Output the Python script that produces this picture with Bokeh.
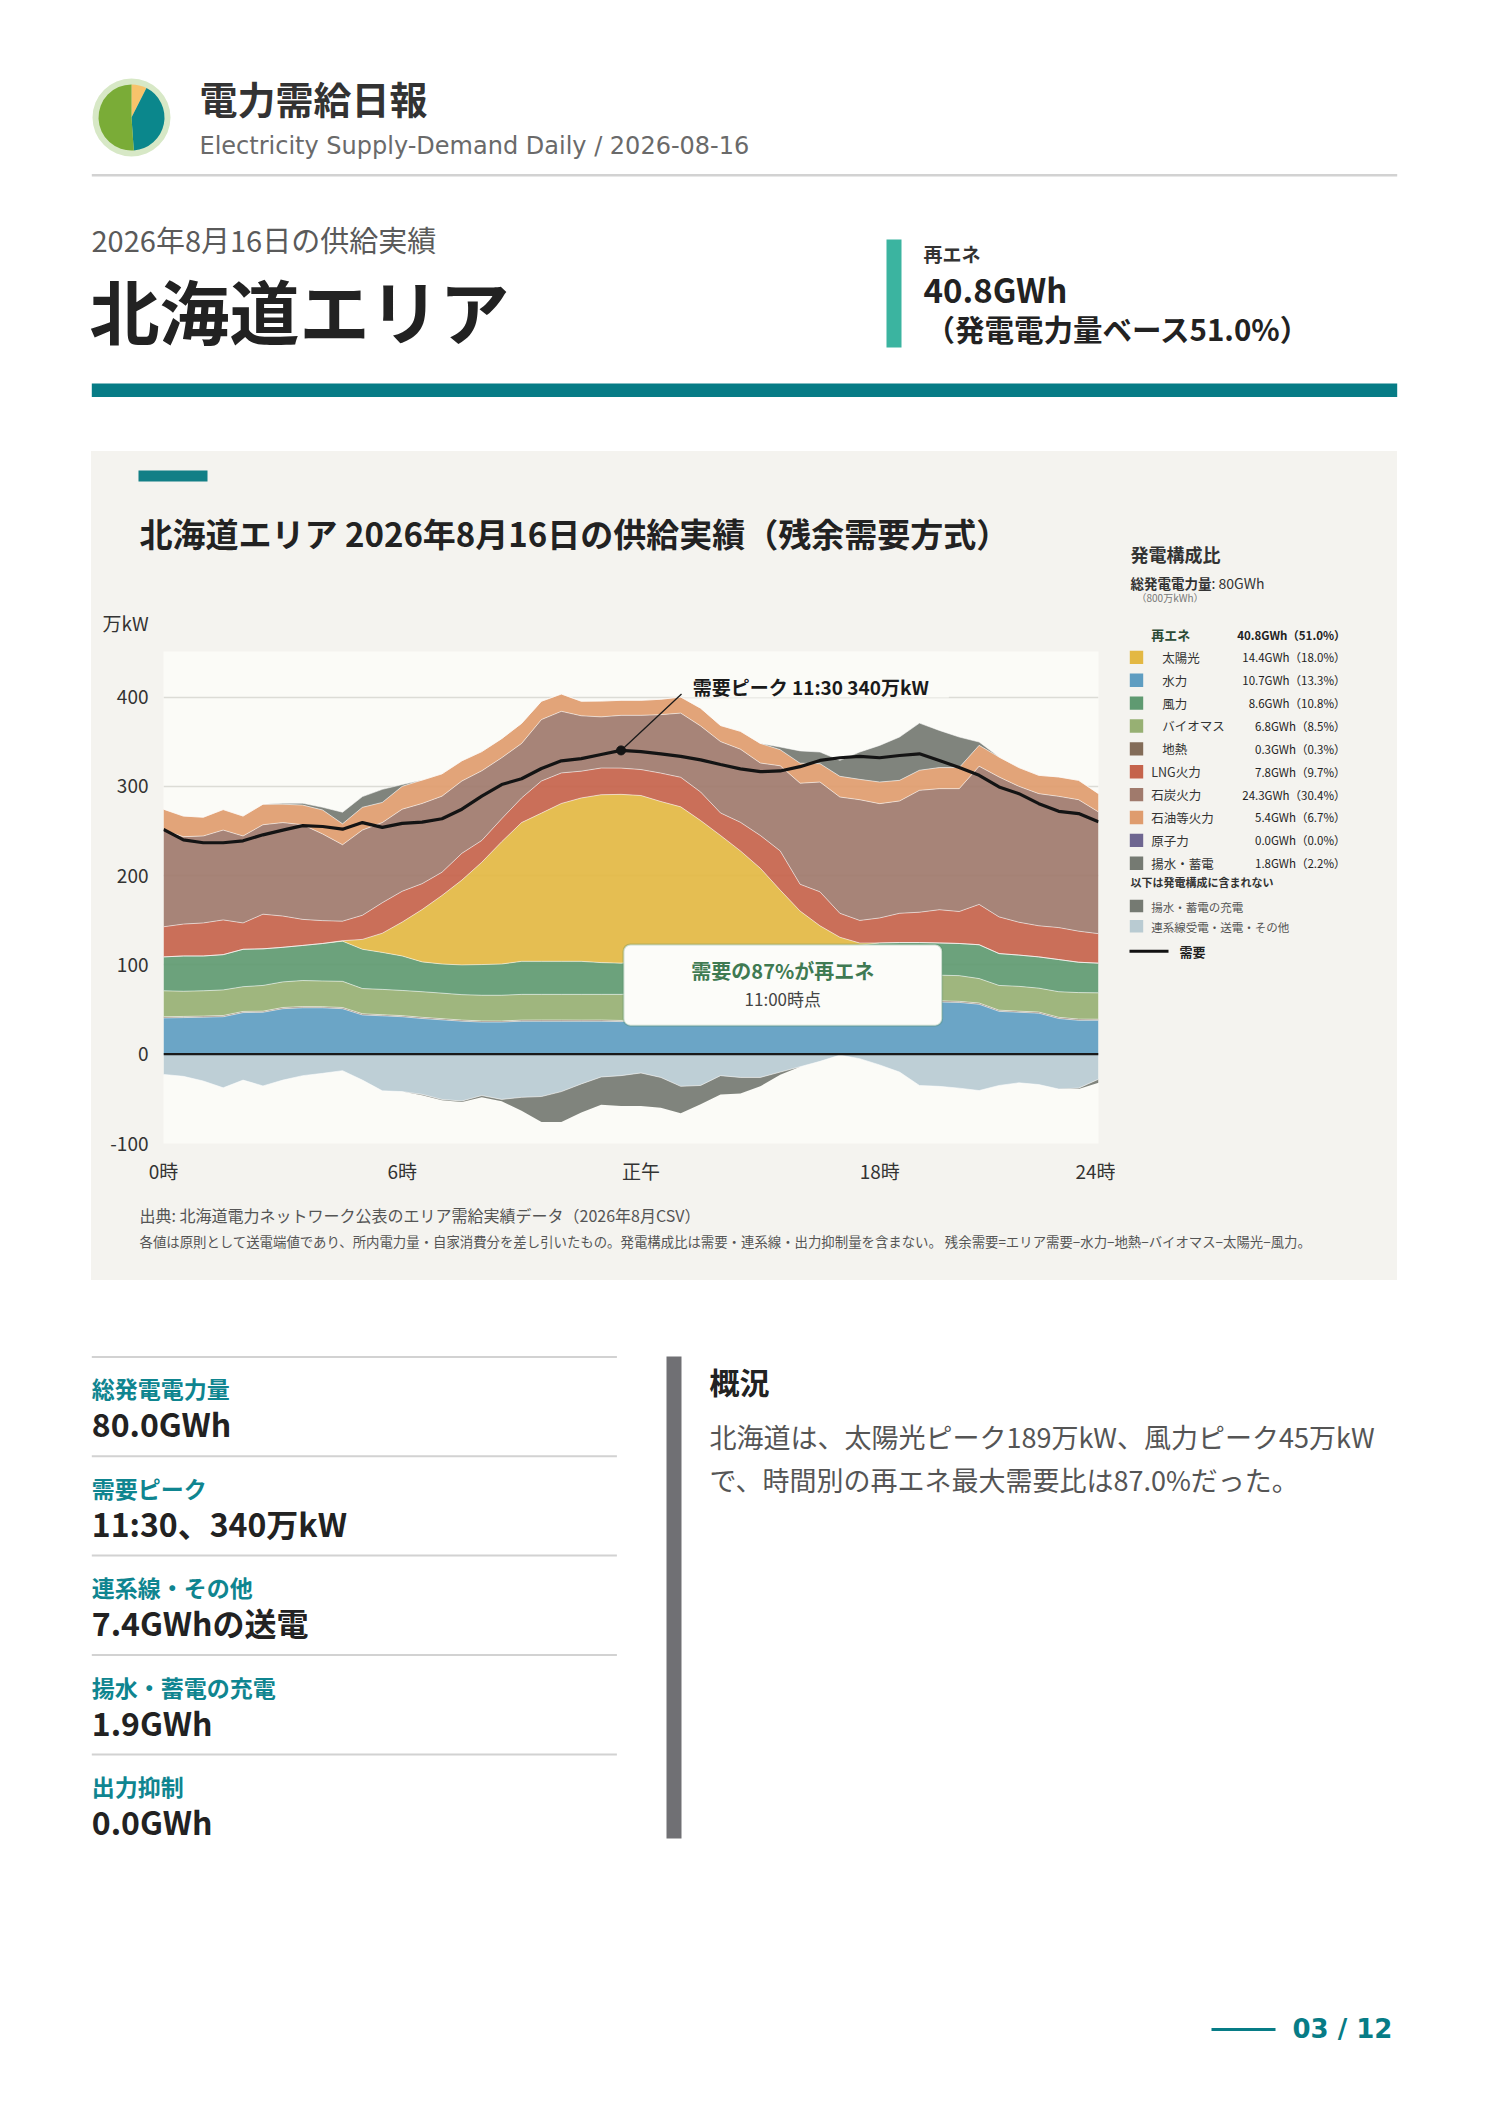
from bokeh.plotting import figure
from bokeh.layouts import column, row
from bokeh.models import (Range1d, ColumnDataSource, FixedTicker, Span,
                          BoxAnnotation, Label, Spacer)
from bokeh.core.properties import value
from bokeh.transform import stack
from bokeh.embed import file_html
from bokeh.resources import INLINE

JP = "Noto Sans CJK JP"

# ---------------- data (万kW, 30-minute steps) ----------------
TIME_LABELS = ["0:00", "0:30", "1:00", "1:30", "2:00", "2:30", "3:00", "3:30",
               "4:00", "4:30", "5:00", "5:30", "6:00", "6:30", "7:00", "7:30",
               "8:00", "8:30", "9:00", "9:30", "10:00", "10:30", "11:00", "11:30",
               "12:00", "12:30", "13:00", "13:30", "14:00", "14:30", "15:00", "15:30",
               "16:00", "16:30", "17:00", "17:30", "18:00", "18:30", "19:00", "19:30",
               "20:00", "20:30", "21:00", "21:30", "22:00", "22:30", "23:00", "23:30"]

HYDRO = [40.6, 41.0, 41.5, 42.0, 46.6, 47.0, 51.0, 52.0, 52.0, 51.0, 44.0, 43.0,
         42.0, 40.0, 38.5, 37.0, 36.0, 36.0, 37.0, 37.0, 37.0, 37.0, 37.0, 36.5,
         37.5, 38.5, 38.0, 40.5, 41.0, 43.5, 44.0, 47.5, 49.0, 52.0, 53.5, 55.0,
         57.0, 56.5, 58.0, 58.5, 58.0, 56.0, 48.0, 47.0, 46.0, 40.0, 38.0, 38.0]
GEO = [1.3, 1.3, 1.2, 1.3, 1.3, 1.2, 1.3, 1.3, 1.2, 1.3, 1.3, 1.2,
       1.2, 1.3, 1.3, 1.2, 1.3, 1.2, 1.2, 1.3, 1.3, 1.2, 1.3, 1.3,
       1.2, 1.2, 1.3, 1.3, 1.2, 1.3, 1.2, 1.3, 1.3, 1.2, 1.3, 1.2,
       1.3, 1.3, 1.2, 1.3, 1.2, 1.3, 1.3, 1.2, 1.2, 1.3, 1.3, 1.2]
BIOMASS = [29.1, 28.2, 28.3, 28.7, 27.7, 28.8, 28.7, 29.2, 28.8, 29.3, 28.2, 28.4,
           28.2, 28.7, 28.6, 28.5, 28.7, 28.8, 28.8, 28.7, 28.7, 28.8, 28.7, 29.2,
           29.3, 28.8, 29.7, 28.7, 28.8, 28.7, 29.3, 28.2, 28.7, 28.3, 28.2, 28.8,
           28.2, 29.2, 28.8, 28.7, 28.8, 27.4, 27.7, 27.8, 26.8, 28.7, 29.7, 29.5]
WIND = [38.0, 39.5, 39.0, 39.5, 41.9, 41.0, 38.7, 39.3, 42.0, 45.0, 44.0, 41.4,
        38.6, 33.4, 32.6, 33.3, 34.4, 35.0, 37.0, 37.0, 37.0, 37.0, 35.6, 35.0,
        35.5, 34.0, 34.5, 34.0, 35.5, 35.0, 36.0, 35.5, 36.0, 35.5, 36.5, 37.0,
        38.1, 38.0, 37.0, 36.1, 36.0, 37.9, 35.7, 35.0, 35.0, 36.0, 34.0, 33.3]
SOLAR = [0.0, 0.0, 0.0, 0.0, 0.0, 0.0, 0.0, 0.0, 0.0, 0.5, 11.1, 21.5,
         38.0, 58.6, 76.8, 95.0, 114.6, 137.0, 155.4, 166.0, 176.8, 183.0, 188.0, 189.0,
         186.2, 180.5, 173.5, 157.2, 138.5, 119.2, 97.8, 71.3, 45.3, 26.8, 11.5, 2.5,
         0.0, 0.0, 0.0, 0.0, 0.0, 0.0, 0.0, 0.0, 0.0, 0.0, 0.0, 0.0]
LNG = [33.7, 35.7, 37.0, 38.9, 29.5, 38.8, 35.0, 29.2, 25.6, 21.9, 27.0, 34.2,
       34.5, 29.0, 26.0, 30.0, 24.4, 25.7, 27.6, 36.0, 34.2, 30.0, 29.9, 29.4,
       29.1, 31.8, 33.1, 31.9, 25.2, 32.0, 36.7, 43.9, 30.0, 38.0, 26.8, 25.3,
       28.0, 32.8, 34.0, 37.2, 35.8, 45.2, 41.1, 36.8, 34.8, 35.8, 34.8, 33.0]
COAL = [108.2, 97.9, 97.4, 100.6, 97.4, 100.2, 104.7, 106.0, 97.0, 85.6, 95.4, 89.7,
        91.9, 89.8, 85.2, 81.0, 78.0, 68.3, 61.0, 68.8, 69.0, 62.0, 57.3, 59.1,
        60.7, 65.5, 71.9, 74.0, 79.9, 81.9, 81.1, 95.3, 113.2, 123.0, 130.2, 135.2,
        128.0, 125.8, 136.5, 135.6, 137.6, 154.7, 156.7, 152.2, 148.0, 147.0, 147.2, 136.3]
OIL = [23.5, 23.1, 21.0, 23.0, 22.3, 23.0, 20.6, 22.0, 26.9, 23.4, 25.5, 22.6,
       25.6, 26.2, 25.0, 22.6, 21.5, 21.4, 22.5, 20.5, 19.4, 16.3, 17.7, 16.8,
       16.8, 17.2, 18.0, 19.9, 18.0, 20.0, 22.0, 18.0, 22.4, 20.6, 23.2, 22.8,
       24.2, 23.1, 22.5, 23.6, 23.6, 23.4, 22.3, 21.0, 20.5, 21.7, 21.7, 20.5]
DISCHARGE = [0.0, 0.0, 0.0, 0.0, 0.0, 0.0, 1.0, 2.0, 3.0, 13.0, 12.0, 14.6,
             2.0, 0.0, 0.0, 0.0, 0.0, 0.0, 0.0, 0.0, 0.0, 0.0, 0.0, 0.0,
             0.0, 0.0, 0.0, 0.0, 0.0, 0.0, 0.0, 3.0, 13.8, 13.0, 17.9, 30.6,
             41.0, 48.5, 52.8, 41.6, 34.2, 3.7, 0.0, 0.0, 0.0, 0.0, 0.0, 0.0]
EXPORT = [22.6, 24.8, 30.0, 37.6, 29.0, 35.5, 29.0, 24.0, 21.4, 18.4, 29.0, 41.0,
          41.9, 45.0, 50.7, 52.4, 46.3, 50.6, 48.3, 47.4, 41.9, 33.3, 25.5, 24.0,
          21.0, 26.0, 36.0, 35.0, 24.0, 26.0, 26.0, 20.0, 14.0, 8.0, 1.0, 5.0,
          12.0, 20.0, 35.0, 36.0, 38.0, 40.7, 35.0, 32.0, 34.0, 39.0, 38.0, 28.0]
CHARGE = [0.0, 0.0, 0.0, 0.0, 0.0, 0.0, 0.0, 0.0, 0.0, 0.0, 0.0, 0.0,
          0.0, 1.0, 1.0, 1.0, 2.0, 2.0, 15.0, 28.6, 34.0, 32.0, 31.0, 34.0,
          37.0, 34.0, 30.0, 21.0, 21.0, 18.0, 10.0, 3.0, 0.0, 0.0, 0.0, 0.0,
          0.0, 0.0, 0.0, 0.0, 0.0, 0.0, 0.0, 0.0, 0.0, 0.0, 1.0, 4.0]
DEMAND = [251.7, 240.0, 236.8, 236.8, 239.0, 245.7, 250.9, 256.0, 255.0, 252.0, 259.4, 254.0,
          258.5, 260.0, 263.7, 274.4, 289.0, 302.0, 308.5, 320.0, 328.6, 331.0, 335.6, 340.2,
          338.8, 336.4, 333.6, 329.6, 324.4, 319.6, 316.4, 317.2, 322.0, 329.0, 332.0, 333.6,
          332.0, 334.5, 336.4, 329.0, 321.0, 312.3, 299.3, 291.8, 280.6, 272.0, 269.5, 260.2]

X_TICKS = [0, 6, 12, 18, 23.5]
X_TICK_LABELS = ["0時", "6時", "正午", "18時", "24時"]
Y_TICKS = [-100, 0, 100, 200, 300, 400]
Y_TICK_LABELS = ["-100", "0", "100", "200", "300", "400"]

LEG_NAMES = ["再エネ", "太陽光", "水力", "風力", "バイオマス", "地熱",
             "LNG火力", "石炭火力", "石油等火力", "原子力", "揚水・蓄電"]
LEG_GWH = [40.8, 14.4, 10.7, 8.6, 6.8, 0.3, 7.8, 24.3, 5.4, 0.0, 1.8]
LEG_PCT = [51.0, 18.0, 13.3, 10.8, 8.5, 0.3, 9.7, 30.4, 6.7, 0.0, 2.2]
LEG_EXTRA = ["揚水・蓄電の充電", "連系線受電・送電・その他"]

STAT_LABELS = ["総発電電力量", "需要ピーク", "連系線・その他", "揚水・蓄電の充電", "出力抑制"]
STAT_VALUES = ["80.0GWh", "11:30、340万kW", "7.4GWhの送電", "1.9GWh", "0.0GWh"]

# ---------------- colours ----------------
C_SOLAR, C_HYDRO, C_WIND, C_BIO, C_GEO = "#e3b843", "#5e9dc1", "#5f9a71", "#97b073", "#836c58"
C_LNG, C_COAL, C_OIL, C_NUC, C_PUMP = "#c5634b", "#a07a6c", "#df9c6e", "#6e6690", "#757a72"
C_EXP = "#b9cbd2"
GRAY_BG = "#f4f3ef"
PLOT_BG = "#fbfbf7"
TEAL = "#077c86"


def decor(x0, x1, y0, y1, bg="#ffffff"):
    p = figure(width=int(x1 - x0), height=int(y1 - y0),
               x_range=Range1d(x0, x1), y_range=Range1d(y1, y0),
               x_axis_type=None, y_axis_type=None, toolbar_location=None,
               output_backend="svg", min_border=0, outline_line_color=None,
               background_fill_color=bg, border_fill_color=bg)
    return p


def T(p, x, y, s, size, color="#333333", bold=False, align="left", baseline="middle", font=JP):
    p.text(x=[x], y=[y], text=[s], text_font=value(font), text_font_size=value(f"{size}px"),
           text_color=color, text_font_style="bold" if bold else "normal",
           text_align=align, text_baseline=baseline)


def R(p, x0, x1, y0, y1, color):
    p.quad(left=[x0], right=[x1], top=[y0], bottom=[y1], fill_color=color, line_color=None)


# ---------------- header ----------------
hdr = decor(0, 1488, 0, 451)
hdr.circle(x=[131], y=[117], radius=39, fill_color="#d7e8c6", line_color=None)
hdr.wedge(x=[131, 131, 131], y=[117, 117, 117], radius=33,
          start_angle=[63, -86, 90], end_angle=[90, 63, 274],
          start_angle_units="deg", end_angle_units="deg",
          fill_color=["#f7c36b", "#0b878c", "#7aac37"], line_color=None)
T(hdr, 199, 97, "電力需給日報", 38, "#333333", bold=True)
T(hdr, 199, 145, "Electricity Supply-Demand Daily / 2026-08-16", 24, "#6a6a6a",
  font="DejaVu Sans")
R(hdr, 91.3, 1396.7, 173.5, 176, "#d2d2d2")
T(hdr, 91, 238, "2026年8月16日の供給実績", 29, "#5a5a5a")
T(hdr, 89, 309, "北海道エリア", 70, "#222222", bold=True)
R(hdr, 886, 901, 239, 347, "#3bb4a0")
T(hdr, 923, 253, "再エネ", 19, "#333333", bold=True)
T(hdr, 923, 288, "40.8GWh", 33, "#222222", bold=True)
T(hdr, 925, 327, "（発電電力量ベース51.0%）", 29.5, "#222222", bold=True)
R(hdr, 91.3, 1396.7, 383, 396.5, TEAL)

# ---------------- chart title strip ----------------
gtop = decor(91, 1115, 451, 635, GRAY_BG)
R(gtop, 138, 207, 470, 481, "#127f86")
T(gtop, 139, 532, "北海道エリア 2026年8月16日の供給実績（残余需要方式）", 33, "#222222", bold=True)
T(gtop, 102, 622, "万kW", 19, "#333333")

# ---------------- chart ----------------
src = ColumnDataSource(dict(
    h=[int(t.split(":")[0]) + int(t.split(":")[1]) / 60 for t in TIME_LABELS],
    hydro=HYDRO, geo=GEO, bio=BIOMASS, wind=WIND, solar=SOLAR, lng=LNG,
    coal=COAL, oil=OIL, dis=DISCHARGE,
    exp_neg=[-v for v in EXPORT], chg_neg=[-v for v in CHARGE], demand=DEMAND))

cp = figure(width=1024, height=560, x_range=Range1d(0, 23.5), y_range=Range1d(-100, 451),
            toolbar_location=None, output_backend="svg",
            min_border_left=72, min_border_right=17, min_border_top=16, min_border_bottom=52,
            background_fill_color=PLOT_BG, border_fill_color=GRAY_BG, outline_line_color=None)

pos = ["hydro", "geo", "bio", "wind", "solar", "lng", "coal", "oil", "dis"]
pos_col = [C_HYDRO, C_GEO, C_BIO, C_WIND, C_SOLAR, C_LNG, C_COAL, C_OIL, C_PUMP]
cp.varea_stack(stackers=pos, x="h", color=pos_col, fill_alpha=0.92, source=src)
for i in range(len(pos)):
    cp.line(x="h", y=stack(*pos[:i + 1]), source=src, line_color="#ffffff",
            line_alpha=0.55, line_width=1)
neg = ["exp_neg", "chg_neg"]
cp.varea_stack(stackers=neg, x="h", color=[C_EXP, C_PUMP], fill_alpha=0.92, source=src)
cp.line(x="h", y=stack("exp_neg"), source=src, line_color="#ffffff", line_alpha=0.55, line_width=1)

cp.add_layout(Span(location=0, dimension="width", line_color="#1a1a1a", line_width=2.2))
cp.line(x="h", y="demand", source=src, line_color="#141414", line_width=3.2)

# peak annotation
pk = max(range(len(DEMAND)), key=lambda i: DEMAND[i])
pk_h = src.data["h"][pk]
pk_v = DEMAND[pk]
cp.add_layout(BoxAnnotation(left=13.05, right=19.74, bottom=399.5,
                            fill_color=PLOT_BG, fill_alpha=1.0, line_color=None))
cp.segment(x0=[pk_h], y0=[pk_v], x1=[13.02], y1=[403.5], line_color="#1a1a1a",
           line_width=1.3, level="overlay")
cp.scatter(x=[pk_h], y=[pk_v], size=9, color="#141414", level="overlay")
cp.add_layout(Label(x=13.3, y=412, text="需要ピーク 11:30 340万kW", text_font=JP,
                    text_font_size="19px", text_font_style="bold", text_color="#1a1a1a",
                    text_baseline="middle"))

# callout
cp.add_layout(BoxAnnotation(left=11.56, right=19.57, bottom=32, top=123,
                            fill_color="#fcfcf9", fill_alpha=1.0, line_color="#4f8a62",
                            line_width=2, border_radius=7))
cp.add_layout(Label(x=15.565, y=94.2, text="需要の87%が再エネ", text_font=JP,
                    text_font_size="20px", text_font_style="bold", text_color="#3f7a52",
                    text_align="center", text_baseline="middle"))
cp.add_layout(Label(x=15.565, y=62.9, text="11:00時点", text_font=JP,
                    text_font_size="17px", text_color="#444444",
                    text_align="center", text_baseline="middle"))

cp.xgrid.visible = False
cp.ygrid.grid_line_color = "#dcdcd6"
cp.ygrid.grid_line_width = 1.5
cp.yaxis.ticker = FixedTicker(ticks=Y_TICKS)
cp.yaxis.major_label_overrides = {k: v for k, v in zip(Y_TICKS, Y_TICK_LABELS)}
cp.xaxis.ticker = FixedTicker(ticks=X_TICKS)
cp.xaxis.major_label_overrides = {k: v for k, v in zip(X_TICKS, X_TICK_LABELS)}
for ax in (cp.xaxis, cp.yaxis):
    ax.axis_line_color = None
    ax.major_tick_line_color = None
    ax.minor_tick_line_color = None
    ax.major_tick_out = 0
    ax.major_tick_in = 0
    ax.major_label_text_font = JP
    ax.major_label_text_font_size = "19px"
    ax.major_label_text_color = "#333333"
cp.yaxis.major_label_standoff = 15
cp.xaxis.major_label_standoff = 13

# ---------------- legend panel ----------------
lg = decor(1115, 1397, 451, 1195, GRAY_BG)
T(lg, 1130, 553, "発電構成比", 18, "#333333", bold=True)
T(lg, 1130, 582, "総発電電力量", 13.5, "#333333", bold=True)
T(lg, 1211, 582, ": 80GWh", 14, "#333333")
T(lg, 1136, 597, "（800万kWh）", 10, "#777777")
leg_cols = [None, C_SOLAR, C_HYDRO, C_WIND, C_BIO, C_GEO, C_LNG, C_COAL, C_OIL, C_NUC, C_PUMP]
indent = [False, True, True, True, True, True, False, False, False, False, False]
for i, name in enumerate(LEG_NAMES):
    y = 634 + 22.87 * i
    if leg_cols[i] is None:
        T(lg, 1150.7, y, name, 13, "#2b4a34", bold=True)
    else:
        R(lg, 1129.3, 1142.7, y - 6.7, y + 6.7, leg_cols[i])
        T(lg, 1161.7 if indent[i] else 1150.7, y, name, 12.5, "#333333")
    T(lg, 1345, y, f"{LEG_GWH[i]:.1f}GWh（{LEG_PCT[i]:.1f}%）", 11.5, "#222222",
      bold=(i == 0), align="right")
T(lg, 1130, 881.7, "以下は発電構成に含まれない", 11, "#333333", bold=True)
for j, (name, col) in enumerate(zip(LEG_EXTRA, [C_PUMP, C_EXP])):
    y = 905.5 + 20.2 * j
    R(lg, 1129.3, 1142.7, y - 6.3, y + 6.3, col)
    T(lg, 1150.7, y + 0.5, name, 11.5, "#555555")
lg.segment(x0=[1129], y0=[950.7], x1=[1168], y1=[950.7], line_color="#111111", line_width=3)
T(lg, 1179, 950.7, "需要", 13, "#222222", bold=True)

# ---------------- notes ----------------
nt = decor(91, 1397, 1195, 1280, GRAY_BG)
T(nt, 139, 1214, "出典: 北海道電力ネットワーク公表のエリア需給実績データ（2026年8月CSV）", 16, "#555555")
T(nt, 139, 1240, "各値は原則として送電端値であり、所内電力量・自家消費分を差し引いたもの。"
                 "発電構成比は需要・連系線・出力抑制量を含まない。 "
                 "残余需要=エリア需要−水力−地熱−バイオマス−太陽光−風力。", 13.4, "#555555")

# ---------------- bottom ----------------
bt = decor(0, 1488, 1280, 2100)
div_y = [1356.4, 1455.8, 1555, 1654.6, 1754]
for i, (lab, val) in enumerate(zip(STAT_LABELS, STAT_VALUES)):
    R(bt, 91.3, 616.4, div_y[i] - 1, div_y[i] + 1, "#d2d2d2")
    T(bt, 91.3, div_y[i] + 31.5, lab, 23, "#0f8590", bold=True)
    T(bt, 91.3, div_y[i] + 66.5, val, 32, "#222222", bold=True)
R(bt, 666, 681, 1356, 1838, "#707074")
T(bt, 709, 1380, "概況", 30, "#222222", bold=True)
T(bt, 709, 1436, "北海道は、太陽光ピーク189万kW、風力ピーク45万kW", 27, "#555555")
T(bt, 709, 1479, "で、時間別の再エネ最大需要比は87.0%だった。", 27, "#555555")
bt.segment(x0=[1211], y0=[2029], x1=[1275], y1=[2029], line_color=TEAL, line_width=3)
T(bt, 1292, 2028, "03 / 12", 26, TEAL, bold=True, font="DejaVu Sans")

# ---------------- layout ----------------
gstyle = {"background-color": GRAY_BG}
left_col = column(row(gtop, styles=gstyle), cp, styles=gstyle)
gray_col = column(row(left_col, lg, styles=gstyle), row(nt, styles=gstyle), styles=gstyle)
mid = row(Spacer(width=91, height=829), gray_col, Spacer(width=91, height=829))
page = column(hdr, mid, bt)

open("out.html", "w").write(file_html(page, INLINE))
